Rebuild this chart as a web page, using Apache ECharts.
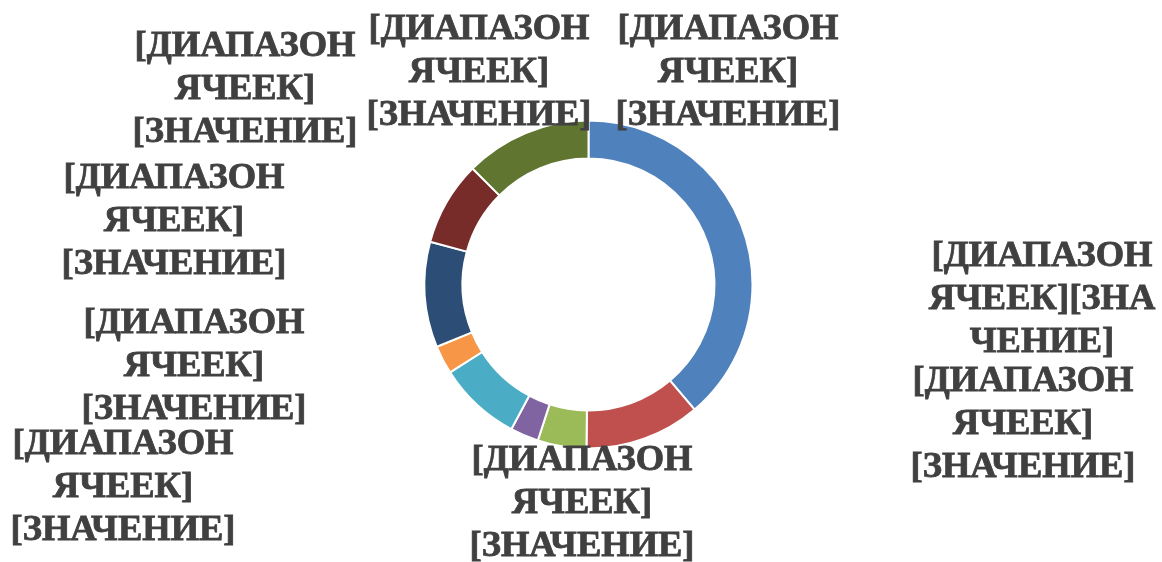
<!DOCTYPE html>
<html>
<head>
<meta charset="utf-8">
<script src="https://cdn.jsdelivr.net/npm/echarts@6/dist/echarts.min.js"></script>
<style>
  html, body { margin: 0; padding: 0; background: #fff; }
  #chart { width: 1162px; height: 562px; }
</style>
</head>
<body>
<div id="chart"></div>
<script>
// data (share of the ring, %)
const categories = ['Синий', 'Красный', 'Зелёный', 'Фиолетовый', 'Бирюзовый', 'Оранжевый', 'Тёмно-синий', 'Бордовый', 'Оливковый']
const values = [38.8, 11.4, 4.8, 2.8, 8.2, 2.8, 10.4, 8.3, 12.5]
const labelTexts = [
  '[ДИАПАЗОН\nЯЧЕЕК][ЗНА\nЧЕНИЕ]',
  '[ДИАПАЗОН\nЯЧЕЕК]\n[ЗНАЧЕНИЕ]',
  '[ДИАПАЗОН\nЯЧЕЕК]\n[ЗНАЧЕНИЕ]',
  '[ДИАПАЗОН\nЯЧЕЕК]\n[ЗНАЧЕНИЕ]',
  '[ДИАПАЗОН\nЯЧЕЕК]\n[ЗНАЧЕНИЕ]',
  '[ДИАПАЗОН\nЯЧЕЕК]\n[ЗНАЧЕНИЕ]',
  '[ДИАПАЗОН\nЯЧЕЕК]\n[ЗНАЧЕНИЕ]',
  '[ДИАПАЗОН\nЯЧЕЕК]\n[ЗНАЧЕНИЕ]',
  '[ДИАПАЗОН\nЯЧЕЕК]\n[ЗНАЧЕНИЕ]'
]

const colors = ['#4f81bd', '#c0504d', '#9bbb59', '#8064a2', '#4bacc6', '#f79646', '#2c4d75', '#772c2a', '#5f7530']

// where the data labels were dragged to (label block centres)
const labelSpots = [
  [1042, 300], [1023, 425], [582, 504], [123, 488], [194, 367],
  [174, 222], [245, 90], [479, 73], [728, 73]
]

const chart = echarts.init(document.getElementById('chart'))

chart.setOption({
  animation: false,
  color: colors,
  series: [
    {
      type: 'pie',
      center: [588.5, 284.5],
      radius: [126, 164],
      startAngle: 90,
      clockwise: true,
      itemStyle: {
        borderColor: '#fff',
        borderWidth: 2
      },
      label: {
        show: true,
        formatter: (p) => labelTexts[p.dataIndex],
        fontFamily: 'Liberation Serif',
        fontWeight: 'bold',
        fontSize: 36.5,
        lineHeight: 43,
        color: '#404040',
        textBorderColor: '#404040',
        textBorderWidth: 0.8,
        align: 'center'
      },
      labelLine: { show: false },
      labelLayout: (params) => ({
        x: labelSpots[params.dataIndex][0],
        y: labelSpots[params.dataIndex][1],
        align: 'center',
        verticalAlign: 'middle'
      }),
      data: categories.map((name, i) => ({ name: name, value: values[i] }))
    }
  ]
})
</script>
</body>
</html>
